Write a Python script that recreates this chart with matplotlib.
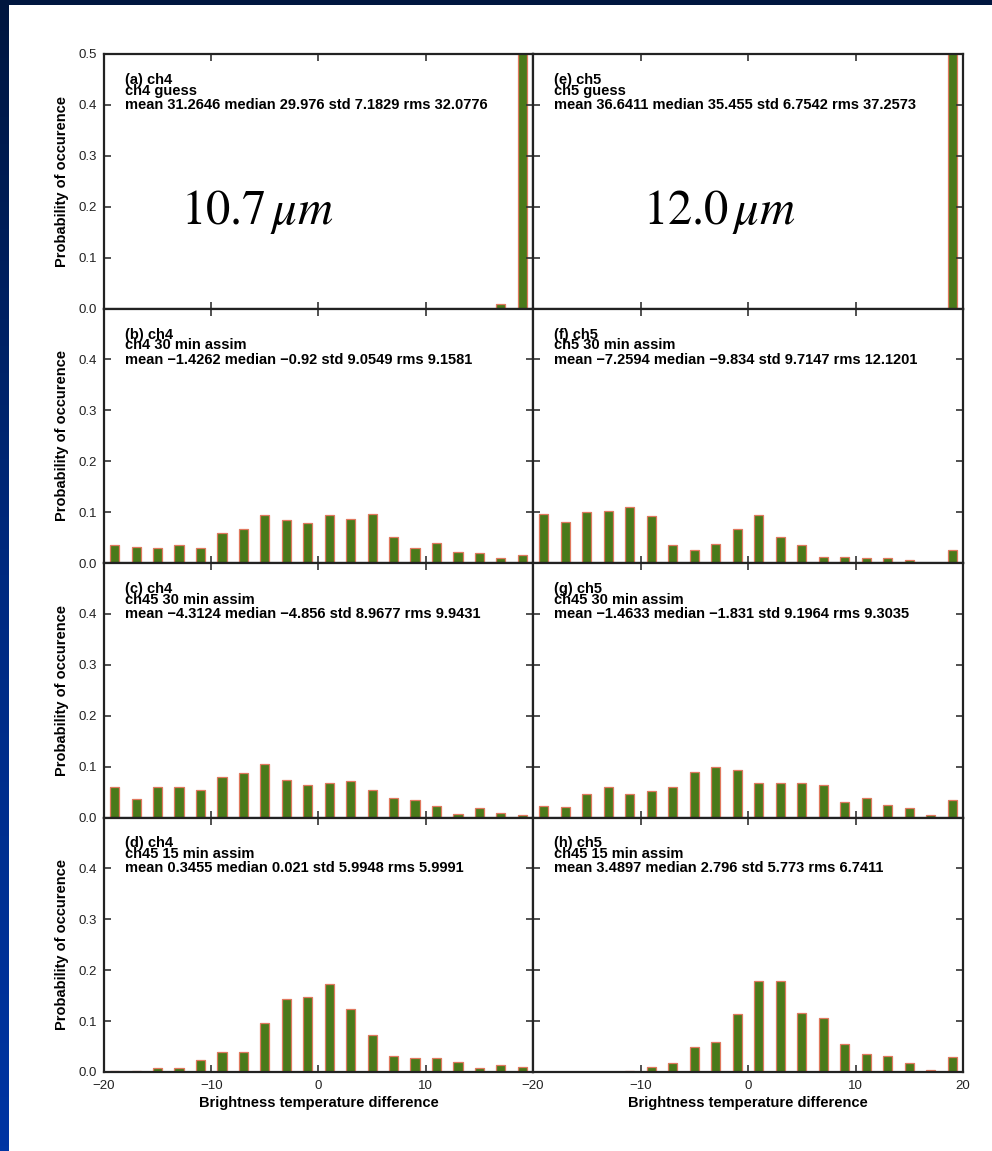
import numpy as np
import matplotlib
matplotlib.use("Agg")
import matplotlib.pyplot as plt
from matplotlib.colors import LinearSegmentedColormap

plt.rcParams['font.family'] = ['Liberation Sans', 'DejaVu Sans']
plt.rcParams['mathtext.fontset'] = 'stix'

# ---------------- data ----------------
bin_centers = [-19, -17, -15, -13, -11, -9, -7, -5, -3, -1,
               1, 3, 5, 7, 9, 11, 13, 15, 17, 19]

ch4_guess = [0, 0, 0, 0, 0, 0, 0, 0, 0, 0,
             0, 0, 0, 0, 0, 0, 0, 0, 0.008, 0.992]
ch5_guess = [0, 0, 0, 0, 0, 0, 0, 0, 0, 0,
             0, 0, 0, 0, 0, 0, 0, 0, 0, 1.0]
ch4_30 = [0.036, 0.032, 0.029, 0.036, 0.029, 0.059, 0.067, 0.094, 0.084, 0.078,
          0.094, 0.086, 0.097, 0.051, 0.029, 0.040, 0.021, 0.019, 0.010, 0.016]
ch5_30 = [0.097, 0.081, 0.100, 0.103, 0.110, 0.092, 0.036, 0.025, 0.038, 0.067,
          0.094, 0.051, 0.036, 0.012, 0.012, 0.010, 0.010, 0.005, 0.0, 0.025]
ch4_ch45_30 = [0.059, 0.036, 0.059, 0.060, 0.055, 0.079, 0.088, 0.106, 0.073, 0.063,
               0.068, 0.071, 0.055, 0.039, 0.035, 0.023, 0.006, 0.019, 0.008, 0.005]
ch5_ch45_30 = [0.023, 0.021, 0.046, 0.060, 0.046, 0.053, 0.059, 0.090, 0.099, 0.093,
               0.068, 0.067, 0.068, 0.064, 0.030, 0.038, 0.025, 0.019, 0.005, 0.034]
ch4_ch45_15 = [0.001, 0.001, 0.007, 0.007, 0.023, 0.039, 0.040, 0.097, 0.144, 0.147,
               0.172, 0.123, 0.072, 0.032, 0.027, 0.027, 0.020, 0.008, 0.014, 0.010]
ch5_ch45_15 = [0.0, 0.0, 0.0, 0.0, 0.001, 0.009, 0.018, 0.050, 0.059, 0.114,
               0.179, 0.178, 0.116, 0.106, 0.055, 0.036, 0.032, 0.017, 0.004, 0.029]

panel_titles = ["(a) ch4", "(e) ch5", "(b) ch4", "(f) ch5",
                "(c) ch4", "(g) ch5", "(d) ch4", "(h) ch5"]
panel_runs = ["ch4 guess", "ch5 guess", "ch4 30 min assim", "ch5 30 min assim",
              "ch45 30 min assim", "ch45 30 min assim", "ch45 15 min assim", "ch45 15 min assim"]
panel_stats = [
    "mean 31.2646 median 29.976 std 7.1829 rms 32.0776",
    "mean 36.6411 median 35.455 std 6.7542 rms 37.2573",
    "mean \u22121.4262 median \u22120.92 std 9.0549 rms 9.1581",
    "mean \u22127.2594 median \u22129.834 std 9.7147 rms 12.1201",
    "mean \u22124.3124 median \u22124.856 std 8.9677 rms 9.9431",
    "mean \u22121.4633 median \u22121.831 std 9.1964 rms 9.3035",
    "mean 0.3455 median 0.021 std 5.9948 rms 5.9991",
    "mean 3.4897 median 2.796 std 5.773 rms 6.7411",
]
panel_values = [ch4_guess, ch5_guess, ch4_30, ch5_30,
                ch4_ch45_30, ch5_ch45_30, ch4_ch45_15, ch5_ch45_15]
wavelength_labels = [r"$\mathrm{10.7}\,\mathit{\mu m}$", r"$\mathrm{12.0}\,\mathit{\mu m}$"]

x_ticks = [-20, -10, 0, 10, 20]
y_ticks = [0.0, 0.1, 0.2, 0.3, 0.4, 0.5]

# ---------------- figure ----------------
W, H = 992, 1151
fig = plt.figure(figsize=(W / 100, H / 100), dpi=100, facecolor='white')

# blue frame (gradient) on left and top
cmap = LinearSegmentedColormap.from_list('frame', ['#00163f', '#002a80', '#0035a3'])
grad = np.linspace(0, 1, 256).reshape(-1, 1)
axl = fig.add_axes([0, 0, 9 / W, 1])
axl.imshow(grad, aspect='auto', cmap=cmap, extent=[0, 1, 1, 0])
axl.axis('off')
axt = fig.add_axes([0, 1 - 5 / H, 1, 5 / H])
axt.imshow(np.zeros((1, 2)), aspect='auto', cmap=cmap, vmin=0, vmax=1)
axt.axis('off')

col_x = [104, 533]
col_w = [429, 430]
top0 = 54
ph = 254.5

bar_fc = '#4a7a1a'
bar_ec = '#e0785e'
txt_fs = 10.5
tick_fs = 9.5
lab_fs = 10.5

for i in range(8):
    r, c = divmod(i, 2)
    top = top0 + r * ph
    ax = fig.add_axes([col_x[c] / W, (H - top - ph) / H, col_w[c] / W, ph / H])
    ax.bar(bin_centers, panel_values[i], width=0.86, color=bar_fc,
           edgecolor=bar_ec, linewidth=0.9)
    ax.set_xlim(-20, 20)
    ax.set_ylim(0, 0.5)
    for s in ax.spines.values():
        s.set_linewidth(1.6)
        s.set_color('#222222')
    ax.set_xticks(x_ticks)
    ax.set_yticks(y_ticks)
    ax.tick_params(direction='in', length=5, width=1.2, color='#333333',
                   top=True, right=True, labelsize=tick_fs, pad=5,
                   labelcolor='#222222')
    if c == 0:
        ylabs = ['0.0', '0.1', '0.2', '0.3', '0.4', '0.5' if r == 0 else '']
        ax.set_yticklabels(ylabs)
        ax.set_ylabel('Probability of occurence', fontsize=lab_fs, fontweight='bold')
        ax.yaxis.set_label_coords(-0.082, 0.5)
    else:
        ax.set_yticklabels([])
    if r == 3:
        if c == 0:
            ax.set_xticklabels(['\u221220', '\u221210', '0', '10', ''])
        else:
            ax.set_xticklabels(['\u221220', '\u221210', '0', '10', '20'])
        ax.tick_params(axis='x', pad=6)
        ax.set_xlabel('Brightness temperature difference', fontsize=lab_fs,
                      fontweight='bold', labelpad=3)
    else:
        ax.set_xticklabels([])
    tx = 21 / col_w[c]
    # title and run name are drawn tightly stacked (as in the original)
    ax.text(tx, 1 - 19 / ph, panel_titles[i] + "\n" + panel_runs[i],
            transform=ax.transAxes, fontsize=txt_fs, fontweight='bold',
            va='top', ha='left', linespacing=0.72)
    ax.text(tx, 1 - 51 / ph, panel_stats[i], transform=ax.transAxes,
            fontsize=txt_fs, fontweight='bold', va='center', ha='left')
    if r == 0:
        ax.text(0.357 if c == 0 else 0.433, 1 - (224 - 54) / ph, wavelength_labels[c],
                transform=ax.transAxes, fontsize=35, ha='center', va='baseline')

fig.savefig('out.png', dpi=100, facecolor='white')
